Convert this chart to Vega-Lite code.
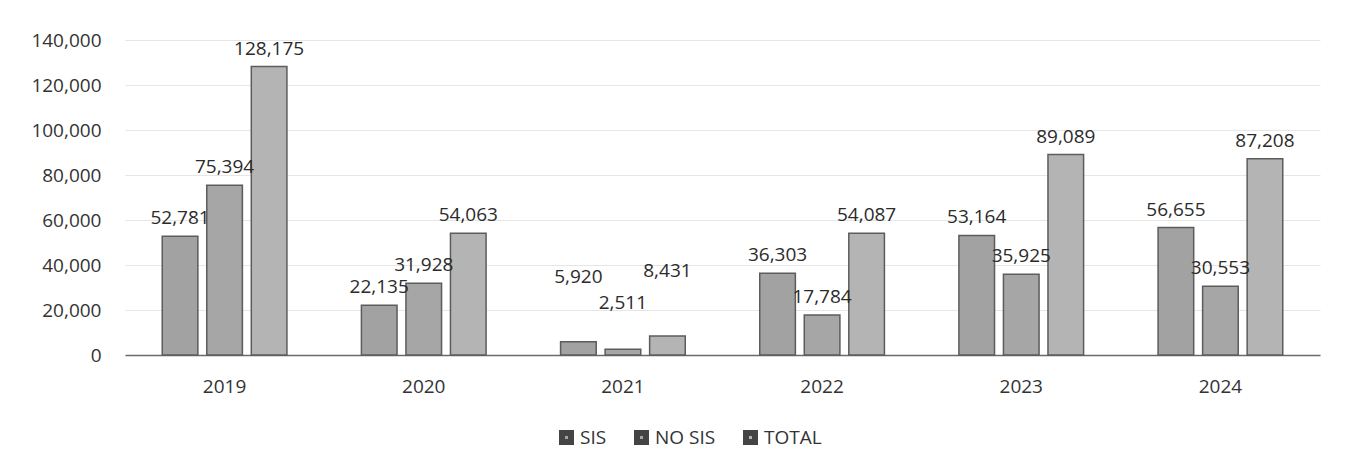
{
  "$schema": "https://vega.github.io/schema/vega-lite/v6.json",
  "autosize": {"type": "none"},
  "width": 1195,
  "height": 315,
  "padding": {"left": 125, "top": 40, "right": 36, "bottom": 116},
  "background": "white",
  "config": {
    "view": {"stroke": null},
    "font": "Open Sans",
    "axis": {"labelFont": "Open Sans", "labelColor": "#333333"}
  },
  "data": {
    "values": [
      {"year": "2019", "serie": "SIS", "value": 52781},
      {"year": "2019", "serie": "NO SIS", "value": 75394},
      {"year": "2019", "serie": "TOTAL", "value": 128175},
      {"year": "2020", "serie": "SIS", "value": 22135},
      {"year": "2020", "serie": "NO SIS", "value": 31928},
      {"year": "2020", "serie": "TOTAL", "value": 54063},
      {"year": "2021", "serie": "SIS", "value": 5920},
      {"year": "2021", "serie": "NO SIS", "value": 2511},
      {"year": "2021", "serie": "TOTAL", "value": 8431},
      {"year": "2022", "serie": "SIS", "value": 36303},
      {"year": "2022", "serie": "NO SIS", "value": 17784},
      {"year": "2022", "serie": "TOTAL", "value": 54087},
      {"year": "2023", "serie": "SIS", "value": 53164},
      {"year": "2023", "serie": "NO SIS", "value": 35925},
      {"year": "2023", "serie": "TOTAL", "value": 89089},
      {"year": "2024", "serie": "SIS", "value": 56655},
      {"year": "2024", "serie": "NO SIS", "value": 30553},
      {"year": "2024", "serie": "TOTAL", "value": 87208}
    ]
  },
  "encoding": {
    "x": {
      "field": "year",
      "type": "nominal",
      "title": null,
      "scale": {"paddingInner": 0.374, "paddingOuter": 0.187},
      "axis": {
        "labelAngle": 0,
        "labelFontSize": 19,
        "labelPadding": 22,
        "ticks": false,
        "domainColor": "#6a6a6a",
        "domainWidth": 1.5,
        "grid": false
      }
    },
    "xOffset": {
      "field": "serie",
      "type": "nominal",
      "sort": ["SIS", "NO SIS", "TOTAL"],
      "scale": {"paddingInner": 0.2, "paddingOuter": 0}
    },
    "y": {
      "field": "value",
      "type": "quantitative",
      "title": null,
      "scale": {"domain": [0, 140000], "nice": false},
      "axis": {
        "values": [0, 20000, 40000, 60000, 80000, 100000, 120000, 140000],
        "format": ",.0f",
        "labelFontSize": 19,
        "labelPadding": 24,
        "ticks": false,
        "domain": false,
        "gridColor": "#e6e6e6",
        "gridWidth": 1
      }
    }
  },
  "layer": [
    {
      "mark": {"type": "bar", "stroke": "#5c5c5c", "strokeWidth": 1.5},
      "encoding": {
        "color": {
          "field": "serie",
          "type": "nominal",
          "sort": ["SIS", "NO SIS", "TOTAL"],
          "title": null,
          "scale": {"domain": ["SIS", "NO SIS", "TOTAL"], "range": ["#a2a2a2", "#a6a6a6", "#b4b4b4"]},
          "legend": {
            "orient": "none",
            "legendX": 432,
            "legendY": 388,
            "direction": "horizontal",
            "symbolType": "square",
            "symbolSize": 81,
            "symbolStrokeColor": "#444444",
            "symbolStrokeWidth": 6,
            "labelFontSize": 19,
            "labelColor": "#333333",
            "labelFont": "Open Sans",
            "columnPadding": 18,
            "labelOffset": 4
          }
        }
      }
    },
    {
      "transform": [{"filter": "datum.year != '2021'"}],
      "mark": {"type": "text", "baseline": "bottom", "dy": -8, "fontSize": 19, "color": "#2b2b2b", "font": "Open Sans"},
      "encoding": {
        "text": {"field": "value", "type": "quantitative", "format": ","}
      }
    },
    {
      "transform": [{"filter": "datum.year == '2021' && datum.serie != 'NO SIS'"}],
      "mark": {"type": "text", "baseline": "bottom", "dy": -55, "fontSize": 19, "color": "#2b2b2b", "font": "Open Sans"},
      "encoding": {
        "text": {"field": "value", "type": "quantitative", "format": ","}
      }
    },
    {
      "transform": [{"filter": "datum.year == '2021' && datum.serie == 'NO SIS'"}],
      "mark": {"type": "text", "baseline": "bottom", "dy": -36, "fontSize": 19, "color": "#2b2b2b", "font": "Open Sans"},
      "encoding": {
        "text": {"field": "value", "type": "quantitative", "format": ","}
      }
    }
  ]
}
